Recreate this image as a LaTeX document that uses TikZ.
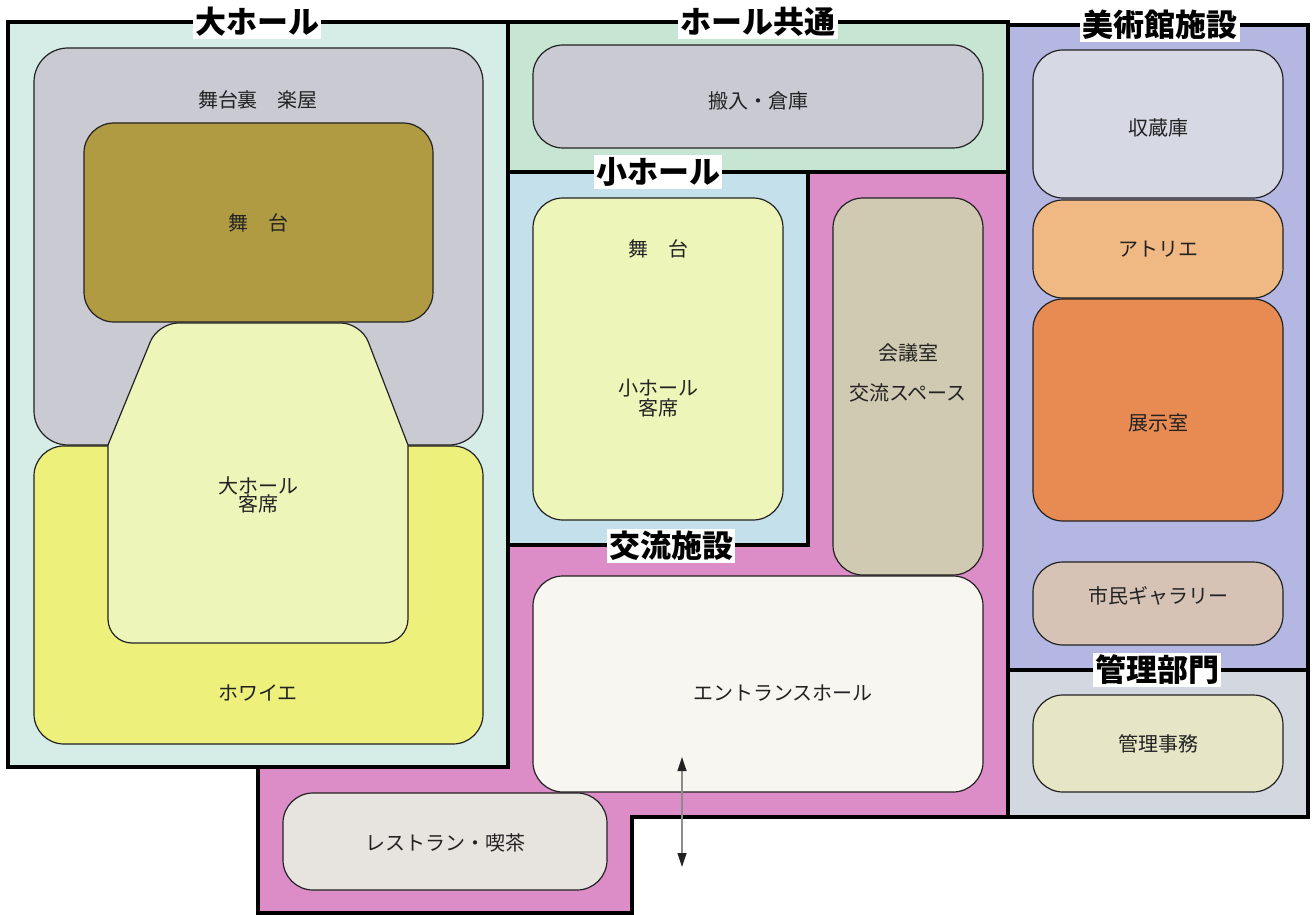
\documentclass[tikz,border=0pt]{standalone}
\usepackage{fontspec}
\setmainfont{Noto Sans CJK JP}
\usetikzlibrary{arrows.meta}
\definecolor{bgbig}{HTML}{D6ECE7}
\definecolor{bgcommon}{HTML}{C6E5D3}
\definecolor{bgsmall}{HTML}{C4E0EA}
\definecolor{bgpink}{HTML}{DC8CC7}
\definecolor{bgart}{HTML}{B4B7E1}
\definecolor{bgadmin}{HTML}{D3D7E0}
\definecolor{cgray}{HTML}{C9CAD2}
\definecolor{colive}{HTML}{B09B42}
\definecolor{cyellow}{HTML}{EEF07C}
\definecolor{cpale}{HTML}{EEF5B8}
\definecolor{ctan}{HTML}{D0CAB2}
\definecolor{centr}{HTML}{F8F6F0}
\definecolor{crest}{HTML}{E7E3DF}
\definecolor{cstore}{HTML}{D6D9E3}
\definecolor{catel}{HTML}{F0B983}
\definecolor{cexhib}{HTML}{E88B52}
\definecolor{cgall}{HTML}{D6C3B6}
\definecolor{cadm}{HTML}{E6E6C6}
\definecolor{ink}{HTML}{222222}
\begin{document}
\begin{tikzpicture}[x=0.5pt,y=-0.5pt,
  region/.style={draw=black,line width=1.6pt,line join=miter},
  room/.style={draw=ink,line width=0.6pt,rounded corners=15pt},
  lbl/.style={font=\fontsize{10}{9.2}\selectfont,text=ink,align=center,inner sep=0pt},
  head/.style={font=\fontsize{15.5}{16}\selectfont\bfseries,fill=white,inner sep=1.2pt,text=black}]
\useasboundingbox (0,0) rectangle (1314,915);
\fill[white] (0,0) rectangle (1314,915);
% regions
\path[region,fill=bgbig] (8,22) rectangle (508,767);
\path[region,fill=bgcommon] (508,22) rectangle (1008,172);
\path[region,fill=bgart] (1008,25) rectangle (1308,670);
\path[region,fill=bgadmin] (1008,670) rectangle (1308,817);
\path[region,fill=bgsmall] (508,172) rectangle (808,545);
\path[region,fill=bgpink] (508,545) -- (808,545) -- (808,172) -- (1008,172) -- (1008,817)
  -- (632,817) -- (632,913) -- (258,913) -- (258,767) -- (508,767) -- cycle;
% big hall rooms
\path[room,fill=cgray,rounded corners=17pt] (34,48) rectangle (483,445);
\path[room,fill=cyellow] (34,446) rectangle (483,744);
\path[room,fill=colive] (84,123) rectangle (433,322);
\path[draw=ink,line width=0.6pt,fill=cpale] (258,323) [rounded corners=10pt] -- (361,323)
  [sharp corners] -- (408,445) [rounded corners=12pt] -- (408,643) -- (108,643)
  [sharp corners] -- (108,445) [rounded corners=10pt] -- (158,323) -- cycle;
\node[lbl] (backstage) at (258,100) {舞台裏　楽屋};
\node[lbl] (bigstage) at (258,223) {舞　台};
\node[lbl] (bigseats) at (258,495) {大ホール\\客席};
\node[lbl] (foyer) at (258,693) {ホワイエ};
% common
\path[room,fill=cgray] (533,45) rectangle (983,148);
\node[lbl] (store) at (758,101) {搬入・倉庫};
% small hall
\path[room,fill=cpale] (533,198) rectangle (783,520);
\node[lbl] (smallstage) at (658,249) {舞　台};
\node[lbl] (smallseats) at (658,398) {小ホール\\客席};
% exchange
\path[room,fill=ctan] (833,198) rectangle (983,575);
\node[lbl] (meeting) at (908,353) {会議室};
\node[lbl] (space) at (908,393) {交流スペース};
\path[room,fill=centr] (533,576) rectangle (983,792);
\node[lbl] (entrance) at (783,693) {エントランスホール};
\path[room,fill=crest] (283,793) rectangle (607,890);
\node[lbl] (rest) at (445,843) {レストラン・喫茶};
% museum
\path[room,fill=cstore] (1033,50) rectangle (1283,198);
\node[lbl] (storage) at (1158,128) {収蔵庫};
\path[room,fill=catel] (1033,200) rectangle (1283,298);
\node[lbl] (atelier) at (1158,249) {アトリエ};
\path[room,fill=cexhib] (1033,299) rectangle (1283,521);
\node[lbl] (exhib) at (1158,423) {展示室};
\path[room,fill=cgall] (1033,562) rectangle (1283,645);
\node[lbl] (gallery) at (1158,596) {市民ギャラリー};
\path[room,fill=cadm] (1033,695) rectangle (1283,792);
\node[lbl] (office) at (1158,744) {管理事務};
% arrow
\coordinate (atop) at (682,757);
\coordinate (abot) at (682,867);
\draw[draw=black!45,line width=0.6pt,
  {Triangle[length=7pt,width=4.5pt,color=ink]}-{Triangle[length=7pt,width=4.5pt,color=ink]}]
  (atop) -- (abot);
% headings
\node[head] (hbig) at (257,22) {大ホール};
\node[head] (hcommon) at (758,22) {ホール共通};
\node[head] (hart) at (1160,25) {美術館施設};
\node[head] (hsmall) at (658,172) {小ホール};
\node[head] (hexch) at (671,546) {交流施設};
\node[head] (hadmin) at (1157,670) {管理部門};
\end{tikzpicture}
\end{document}
